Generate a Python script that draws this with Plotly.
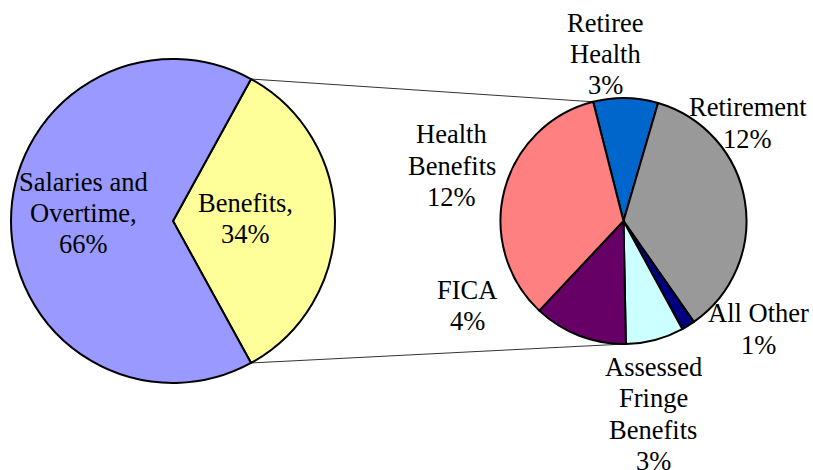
import math
import plotly.graph_objects as go

# ---- data ----
main_labels = ["Benefits", "Salaries and<br>Overtime"]
main_values = [34, 66]
main_colors = ["#FFFF99", "#9999FF"]

sub_labels = ["Retiree<br>Health", "Retirement", "All Other",
              "Assessed<br>Fringe<br>Benefits", "FICA", "Health<br>Benefits"]
sub_values = [2.9, 12.2, 0.6, 2.6, 4.2, 11.6]
sub_colors = ["#0066CC", "#999999", "#000080", "#CCFFFF", "#660066", "#FF8080"]

# ---- layout geometry (pixels) ----
W, H = 813, 470
c1, r1 = (173.0, 221.0), 162.0
c2, r2 = (623.5, 221.0), 123.0
rot1 = 90 - main_values[0] / sum(main_values) * 180
rot2 = -14.3

# label placement (angle clockwise from 12 o'clock, distance in radii)
main_label_pos = [(88.0, 0.445), (275.1, 0.552)]
sub_label_pos = [(-6.0, 1.365), (51.8, 1.288), (128.6, 1.409),
                 (171.3, 1.587), (241.6, 1.446), (287.9, 1.466)]
LINE = 31.3   # line spacing in px
FS = 26.5
FAM = "Liberation Serif"


def dom(c, r):
    return dict(x=[(c[0] - r) / W, (c[0] + r) / W],
                y=[(H - (c[1] + r)) / H, (H - (c[1] - r)) / H])


def pt(c, r, ang):
    a = math.radians(ang)
    return (c[0] + r * math.sin(a), c[1] - r * math.cos(a))


fig = go.Figure()
fig.add_trace(go.Pie(
    labels=main_labels, values=main_values, sort=False, direction="clockwise",
    rotation=rot1, domain=dom(c1, r1), textinfo="none",
    marker=dict(colors=main_colors, line=dict(color="black", width=2)),
    showlegend=False, hoverinfo="label+percent"))
fig.add_trace(go.Pie(
    labels=sub_labels, values=sub_values, sort=False, direction="clockwise",
    rotation=rot2, domain=dom(c2, r2), textinfo="none",
    marker=dict(colors=sub_colors, line=dict(color="black", width=2)),
    showlegend=False, hoverinfo="label+value"))

# connector lines between pies
a_top1 = rot1
a_bot1 = rot1 + 360 * main_values[0] / sum(main_values)
a_top2 = rot2
a_bot2 = rot2 + 360 * sum(sub_values[:4]) / sum(sub_values)
for a1, a2 in [(a_top1, a_top2), (a_bot1, a_bot2)]:
    p1 = pt(c1, r1, a1)
    p2 = pt(c2, r2, a2)
    fig.add_shape(type="line", xref="paper", yref="paper",
                  x0=p1[0] / W, y0=1 - p1[1] / H, x1=p2[0] / W, y1=1 - p2[1] / H,
                  line=dict(color="#333333", width=1), layer="below")


def add_label(text, c, r, pos):
    x, y = pt(c, r * pos[1], pos[0])
    lines = text.split("<br>")
    n = len(lines)
    for i, ln in enumerate(lines):
        yy = y - (n - 1) * LINE / 2 + i * LINE
        fig.add_annotation(x=x / W, y=1 - yy / H, xref="paper", yref="paper",
                           text=ln, showarrow=False, xanchor="center",
                           yanchor="middle",
                           font=dict(family=FAM, size=FS, color="black"))


for lab, val, pos in zip(main_labels, main_values, main_label_pos):
    add_label(f"{lab},<br>{val:.0f}%", c1, r1, pos)
for lab, val, pos in zip(sub_labels, sub_values, sub_label_pos):
    add_label(f"{lab}<br>{val:.0f}%", c2, r2, pos)

fig.update_layout(width=W, height=H,
                  margin=dict(l=0, r=0, t=0, b=0, autoexpand=False),
                  paper_bgcolor="white", plot_bgcolor="white",
                  font=dict(family=FAM, size=FS, color="black"))
fig.write_html("out.html", config={"displayModeBar": False},
               post_script="document.body.style.margin='0';"
                           "document.body.style.overflow='hidden';")
